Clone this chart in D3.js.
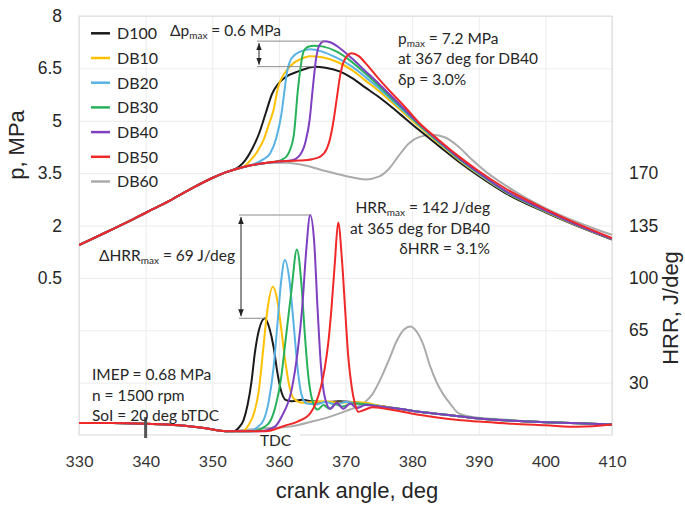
<!DOCTYPE html>
<html lang="en">
<head>
<meta charset="UTF-8">
<title>Cylinder pressure and HRR</title>
<script src="https://d3js.org/d3.v7.min.js"></script>
<style>
  body { margin: 0; background: #fff; }
  .axis text { font-family: "Liberation Sans", Arial, sans-serif; font-size: 17.5px; fill: #262626; }
  .xaxis text { font-family: Lato, "Open Sans", sans-serif; font-size: 16px; fill: #333; }
  .axis .domain { display: none; }
  .grid line { stroke: #ececec; stroke-width: 1; }
  .grid .domain, .grid text { display: none; }
  .title { font-family: "Liberation Sans", Arial, sans-serif; font-size: 22px; fill: #262626; }
  .note { font-family: Lato, "Open Sans", sans-serif; font-size: 15.5px; fill: #262626; }
  .legend text { font-family: Lato, "Open Sans", sans-serif; font-size: 16px; fill: #262626; }
</style>
</head>
<body>
<div id="chart"></div>
<script>
// ---- data ----
const seriesNames = ["D100", "DB10", "DB20", "DB30", "DB40", "DB50", "DB60"];
const seriesColors = ["#1a1a1a", "#FFC000", "#58B2E4", "#27B25A", "#7E3FC0", "#F02828", "#ABABAB"];

const xTicks = [330, 340, 350, 360, 370, 380, 390, 400, 410];
const pTicks = [0.5, 2, 3.5, 5, 6.5, 8];
const hrrTicks = [30, 65, 100, 135, 170];

// cylinder pressure, MPa  [crank angle, p]
const pD100 = [[330,1.44],[334,1.8],[338,2.17],[341,2.46],[344,2.75],[347,3.07],[350,3.36],[352,3.52],[354,3.68],[355,3.88],[356,4.2],[357,4.62],[358,5.2],[359,5.78],[360,6.08],[361,6.25],[363,6.42],[365.4,6.55],[367,6.52],[369,6.42],[371,6.22],[373,5.95],[375,5.68],[377,5.38],[379,5.06],[381,4.74],[384,4.28],[387,3.83],[390,3.42],[394,2.93],[400,2.38],[405,1.97],[410,1.6]];
const pDB10 = [[330,1.44],[334,1.8],[338,2.17],[341,2.46],[344,2.75],[347,3.07],[350,3.36],[352,3.52],[354,3.64],[355,3.72],[355.7,3.86],[356.7,4.1],[357.7,4.45],[358.5,4.9],[359.2,5.31],[359.9,5.97],[360.5,6.25],[361.2,6.45],[362.2,6.65],[363.2,6.76],[364.7,6.85],[366.5,6.82],[368.7,6.69],[371,6.45],[373,6.15],[375,5.85],[377,5.52],[379,5.18],[381,4.84],[384,4.35],[387,3.88],[390,3.46],[394,2.96],[400,2.4],[405,1.98],[410,1.61]];
const pDB20 = [[330,1.44],[334,1.8],[338,2.17],[341,2.46],[344,2.75],[347,3.07],[350,3.36],[352,3.52],[354,3.64],[356,3.74],[357.7,3.9],[358.7,4.07],[359.6,4.5],[360.4,5.21],[360.8,5.8],[361.2,6.36],[361.9,6.79],[363.2,6.98],[364.7,7.05],[366.5,6.98],[368.5,6.82],[371,6.55],[373,6.25],[375,5.93],[377,5.58],[379,5.23],[381,4.88],[384,4.38],[387,3.9],[390,3.48],[394,2.97],[400,2.41],[405,1.99],[410,1.62]];
const pDB30 = [[330,1.44],[334,1.8],[338,2.17],[341,2.46],[344,2.75],[347,3.07],[350,3.36],[352,3.52],[354,3.64],[356,3.73],[358,3.79],[359.5,3.83],[360.5,3.89],[361.2,3.99],[362.2,4.54],[362.9,5.97],[363.7,6.98],[364.4,7.12],[365.3,7.15],[366.5,7.13],[368.7,6.98],[371,6.68],[373,6.35],[375,6.0],[377,5.63],[379,5.27],[381,4.9],[384,4.4],[387,3.92],[390,3.5],[394,2.98],[400,2.42],[405,2.0],[410,1.62]];
const pDB40 = [[330,1.44],[334,1.8],[338,2.17],[341,2.46],[344,2.75],[347,3.07],[350,3.36],[352,3.52],[354,3.64],[356,3.73],[358,3.79],[360,3.83],[362,3.87],[363,3.98],[364,4.4],[364.6,5.0],[365.1,5.95],[365.6,6.8],[366.1,7.17],[366.8,7.28],[367.8,7.24],[369.2,7.07],[371,6.78],[373,6.42],[375,6.06],[377,5.68],[379,5.3],[381,4.93],[384,4.42],[387,3.94],[390,3.51],[394,2.99],[400,2.43],[405,2.0],[410,1.62]];
const pDB50 = [[330,1.44],[334,1.8],[338,2.17],[341,2.46],[344,2.75],[347,3.07],[350,3.36],[352,3.52],[354,3.64],[356,3.73],[358,3.79],[360,3.84],[363,3.86],[365,3.9],[366.2,3.97],[367.2,4.2],[367.7,4.5],[368.2,5.0],[368.7,5.65],[369.2,6.3],[369.8,6.72],[370.9,6.93],[372,6.85],[373,6.65],[375,6.2],[377,5.78],[379,5.38],[381,4.95],[384,4.45],[387,3.98],[390,3.56],[394,3.06],[400,2.47],[405,2.03],[410,1.64]];
const pDB60 = [[330,1.44],[334,1.8],[338,2.17],[341,2.46],[344,2.75],[347,3.07],[350,3.36],[352,3.52],[354,3.64],[356,3.73],[358,3.79],[361,3.8],[364,3.72],[367,3.56],[370,3.42],[373,3.32],[375,3.4],[376.5,3.62],[378,4.0],[379.5,4.35],[381,4.53],[383,4.6],[385,4.52],[387,4.25],[389,3.88],[391,3.55],[394,3.15],[397,2.8],[400,2.5],[405,2.08],[410,1.73]];

// heat release rate, J/deg  [crank angle, HRR]
const hD100 = [[330,3],[335,3],[340,2.5],[345,1.5],[349,-0.5],[352,-2.5],[353.2,-2.5],[354,0],[354.7,5],[355.3,15],[355.9,31],[356.4,50],[357,65],[357.9,73],[358.6,66],[359.2,54],[359.8,36],[360.3,25],[361,18.5],[362,17.5],[363.5,18.5],[365,17.5],[367,17],[369,17.5],[371,17],[373,16],[375,14.5],[378,12.5],[381,10.5],[384,9],[387,7.5],[390,6],[395,4.5],[400,3.5],[405,2.8],[410,2]];
const hDB10 = [[330,3],[335,3],[340,2.5],[345,1.5],[349,-0.5],[352,-2.5],[354.5,-2.5],[355.5,2],[356.3,10],[357,25],[357.6,50],[358.2,76],[359.1,94],[359.8,84],[360.3,68],[361,43],[361.6,27],[362.3,19],[363.5,16.5],[365,17],[367,17.5],[369,16.5],[371,17],[373,16.5],[375,14.5],[378,12.5],[381,10.5],[384,9],[387,7.5],[390,6],[395,4.5],[400,3.5],[405,2.8],[410,2]];
const hDB20 = [[330,3],[335,3],[340,2.5],[345,1.5],[349,-0.5],[352,-2.5],[355.5,-2.5],[356.7,0],[357.7,5],[358.5,18],[359.2,40],[359.8,70],[360.3,96],[360.9,112],[361.6,98],[362.2,70],[362.8,40],[363.4,22],[364.2,16],[365.5,15.5],[367,17],[368.5,15.5],[370,17],[372,16],[374,15],[376,13.5],[378,12.5],[381,10.5],[384,9],[387,7.5],[390,6],[395,4.5],[400,3.5],[405,2.8],[410,2]];
const hDB30 = [[330,3],[335,3],[340,2.5],[345,1.5],[349,-0.5],[352,-2.5],[356,-2.5],[357.9,0.6],[358.8,5],[359.6,16],[360.3,32],[361,58],[361.9,92],[362.7,119],[363.4,95],[363.9,62],[364.4,35],[365.1,17],[365.8,12],[366.7,15],[367.6,12.5],[368.5,15.5],[369.5,14],[371,16],[373,15.5],[375,14],[378,12.5],[381,10.5],[384,9],[387,7.5],[390,6],[395,4.5],[400,3.5],[405,2.8],[410,2]];
const hDB40 = [[330,3],[335,3],[340,2.5],[345,1.5],[349,-0.5],[352,-2.5],[357,-2.5],[359.4,0.6],[360.5,8],[361.9,25],[362.8,50],[363.5,80],[364.1,118],[364.7,142],[365.3,124],[365.8,80],[366.3,42],[366.9,20],[367.7,12.5],[368.7,16.5],[369.7,12.5],[370.7,16],[371.7,13],[373,15],[375,14],[378,12.5],[381,10.5],[384,9],[387,7.5],[390,6],[395,4.5],[400,3.5],[405,2.8],[410,2]];
const hDB50 = [[330,3],[335,3],[340,2.5],[345,1.5],[349,-0.5],[352,-2.5],[358,-2.5],[360.9,1.2],[362.8,4],[364.7,9.5],[365.6,17],[366.3,27],[366.9,40],[367.4,56],[367.9,80],[368.4,110],[368.9,137],[369.5,110],[370,75],[370.4,48],[370.9,28],[371.4,16],[371.9,10.5],[372.7,11.5],[374,13.5],[376,12.5],[378,11],[381,8.5],[384,6.5],[387,5],[390,4],[395,2.5],[400,1.5],[405,0.5],[410,2]];
const hDB60 = [[330,3],[335,3],[340,2.5],[345,1.5],[349,-0.5],[352,-2.5],[355,-1.5],[358,-0.5],[361.7,0.6],[365,4],[367.7,7.3],[370,11],[372.7,16.2],[374,22],[375.2,31.8],[376.5,45],[377.7,58],[378.8,65.5],[379.7,67.5],[380.7,64],[381.7,55],[382.7,41],[383.7,30],[384.7,22],[385.7,16],[387,9.5],[390,6.5],[392,5.8],[396,4.6],[400,3.6],[405,2.8],[410,2]];

const pressure = [pD100, pDB10, pDB20, pDB30, pDB40, pDB50, pDB60];
const hrr = [hD100, hDB10, hDB20, hDB30, hDB40, hDB50, hDB60];

// ---- layout ----
const width = 685, height = 505;
const plot = {left: 79, right: 612, top: 16, bottom: 435};

const svg = d3.select("#chart").append("svg")
    .attr("width", width)
    .attr("height", height);

const x = d3.scaleLinear().domain([330, 410]).range([plot.left, plot.right]);
const yP = d3.scaleLinear().domain([-4, 8]).range([plot.bottom, plot.top]);
const yH = d3.scaleLinear().domain([-5, 275]).range([plot.bottom, plot.top]);

// gridlines
svg.append("g")
    .attr("class", "grid")
    .attr("transform", `translate(0,${plot.bottom})`)
    .call(d3.axisBottom(x).tickValues(xTicks).tickSize(-(plot.bottom - plot.top)));
svg.append("g")
    .attr("class", "grid")
    .attr("transform", `translate(${plot.left},0)`)
    .call(d3.axisLeft(yP).tickValues(d3.range(-2.5, 8.1, 1.5)).tickSize(-(plot.right - plot.left)));

// plot frame
svg.append("rect")
    .attr("x", plot.left).attr("y", plot.top)
    .attr("width", plot.right - plot.left).attr("height", plot.bottom - plot.top)
    .attr("fill", "none").attr("stroke", "#d9d9d9");

// axes (labels only)
svg.append("g")
    .attr("class", "axis")
    .attr("transform", `translate(${plot.left},0)`)
    .call(d3.axisLeft(yP).tickValues(pTicks).tickSize(0).tickPadding(17).tickFormat(d3.format("")));
svg.append("g")
    .attr("class", "axis")
    .attr("transform", `translate(${plot.right},0)`)
    .call(d3.axisRight(yH).tickValues(hrrTicks).tickSize(0).tickPadding(17));
svg.append("g")
    .attr("class", "axis xaxis")
    .attr("transform", `translate(0,${plot.bottom})`)
    .call(d3.axisBottom(x).tickValues(xTicks).tickSize(0).tickPadding(21));

// axis titles
svg.append("text").attr("class", "title")
    .attr("x", 357).attr("y", 498)
    .attr("text-anchor", "middle")
    .text("crank angle, deg");
svg.append("text").attr("class", "title")
    .attr("transform", "translate(24,145) rotate(-90)")
    .attr("text-anchor", "middle")
    .text("p, MPa");
svg.append("text").attr("class", "title")
    .attr("transform", "translate(678,308) rotate(-90)")
    .attr("text-anchor", "middle")
    .text("HRR, J/deg");

// TDC label sits on the frame
svg.append("rect")
    .attr("x", 262).attr("y", 430).attr("width", 38).attr("height", 18)
    .attr("fill", "#fff");
svg.append("text").attr("class", "note")
    .attr("x", x(359.5)).attr("y", 446)
    .attr("text-anchor", "middle")
    .text("TDC");

// curves
svg.append("clipPath").attr("id", "clip")
    .append("rect")
    .attr("x", plot.left).attr("y", plot.top)
    .attr("width", plot.right - plot.left).attr("height", plot.bottom - plot.top);

const curves = svg.append("g").attr("clip-path", "url(#clip)");

const lineP = d3.line().x(d => x(d[0])).y(d => yP(d[1])).curve(d3.curveMonotoneX);
const lineH = d3.line().x(d => x(d[0])).y(d => yH(d[1])).curve(d3.curveMonotoneX);

// start of injection marker at 340 deg
svg.append("line")
    .attr("x1", x(340)).attr("x2", x(340))
    .attr("y1", 417).attr("y2", 438)
    .attr("stroke", "#555").attr("stroke-width", 3);

[6, 0, 1, 2, 3, 4, 5].forEach(i => {
    curves.append("path")
        .attr("d", lineH(hrr[i]))
        .attr("fill", "none")
        .attr("stroke", seriesColors[i])
        .attr("stroke-width", 2);
});
[6, 0, 1, 2, 3, 4, 5].forEach(i => {
    curves.append("path")
        .attr("d", lineP(pressure[i]))
        .attr("fill", "none")
        .attr("stroke", seriesColors[i])
        .attr("stroke-width", 2);
});

// legend
const legend = svg.append("g").attr("class", "legend");
seriesNames.forEach((name, i) => {
    const cy = 33.3 + i * 24.7;
    legend.append("line")
        .attr("x1", 91).attr("x2", 110)
        .attr("y1", cy).attr("y2", cy)
        .attr("stroke", seriesColors[i]).attr("stroke-width", 2.5);
    legend.append("text")
        .attr("x", 117).attr("y", cy + 5.8)
        .text(name);
});

// annotations
svg.append("defs").append("marker")
    .attr("id", "arrow")
    .attr("viewBox", "0 0 10 10")
    .attr("refX", 10).attr("refY", 5)
    .attr("markerWidth", 7).attr("markerHeight", 7)
    .attr("orient", "auto-start-reverse")
    .append("path").attr("d", "M0,1 L10,5 L0,9 z").attr("fill", "#222");

function peak(arr) { return arr.reduce((a, b) => (b[1] > a[1] ? b : a)); }

function bracket(xLeft, hi, lo, yScale) {
    const g = svg.append("g");
    [hi, lo].forEach(pk => {
        g.append("line")
            .attr("x1", xLeft).attr("x2", x(pk[0]))
            .attr("y1", yScale(pk[1])).attr("y2", yScale(pk[1]))
            .attr("stroke", "#8c8c8c").attr("stroke-width", 1);
    });
    g.append("line")
        .attr("x1", xLeft + 2).attr("x2", xLeft + 2)
        .attr("y1", yScale(hi[1]) + 2).attr("y2", yScale(lo[1]) - 2)
        .attr("stroke", "#222").attr("stroke-width", 1)
        .attr("marker-start", "url(#arrow)")
        .attr("marker-end", "url(#arrow)");
}
bracket(257, peak(pDB40), peak(pD100), yP);
bracket(239, peak(hDB40), peak(hD100), yH);

function note(xPos, yPos, parts, anchor) {
    const t = svg.append("text").attr("class", "note")
        .attr("x", xPos).attr("y", yPos)
        .attr("text-anchor", anchor || "start");
    parts.forEach(p => {
        const s = t.append("tspan").text(p.t);
        if (p.sub) s.attr("font-size", "10px").attr("dy", 3);
        if (p.up) s.attr("dy", -3);
    });
}

note(170, 36, [{t: "\u0394p"}, {t: "max", sub: true}, {t: " = 0.6 MPa", up: true}]);
note(398, 43.5, [{t: "p"}, {t: "max", sub: true}, {t: " = 7.2 MPa", up: true}]);
note(398, 64, [{t: "at 367 deg for DB40"}]);
note(398, 85, [{t: "\u03b4p = 3.0%"}]);

note(490, 213, [{t: "HRR"}, {t: "max", sub: true}, {t: " = 142 J/deg", up: true}], "end");
note(490, 233.5, [{t: "at 365 deg for DB40"}], "end");
note(490, 254, [{t: "\u03b4HRR = 3.1%"}], "end");

note(235, 261, [{t: "\u0394HRR"}, {t: "max", sub: true}, {t: " = 69 J/deg", up: true}], "end");

note(92, 380, [{t: "IMEP = 0.68 MPa"}]);
note(92, 401, [{t: "n = 1500 rpm"}]);
note(92, 421, [{t: "SoI = 20 deg bTDC"}]);
</script>
</body>
</html>
